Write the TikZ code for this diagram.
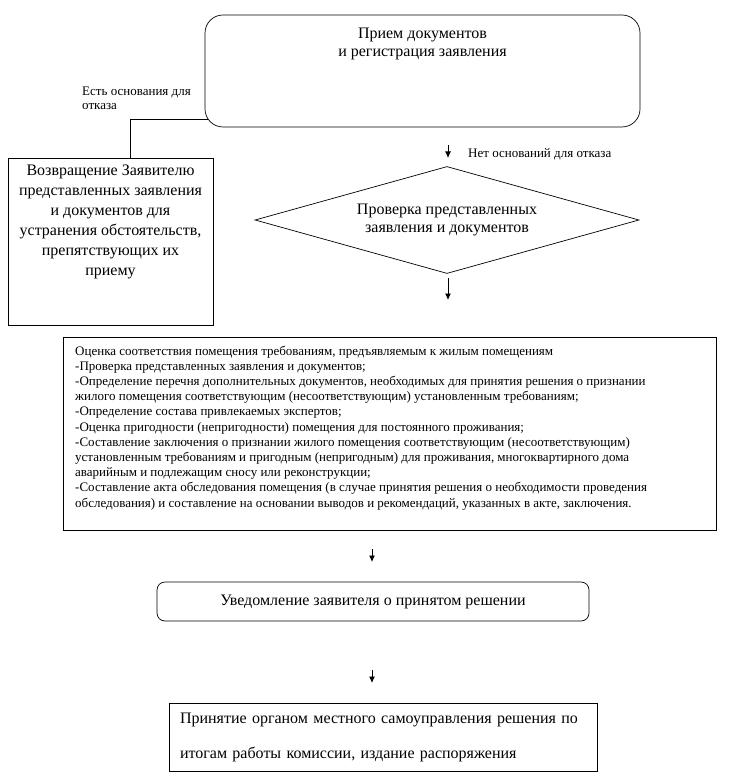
\documentclass[tikz,border=0pt]{standalone}
\usepackage{fontspec}
\setmainfont{Liberation Serif}
\usetikzlibrary{shapes.geometric,arrows.meta,positioning}

\begin{document}
\begin{tikzpicture}[x=1pt,y=-1pt,
  box/.style={draw,line width=0.7pt,inner sep=0pt},
  rbox/.style={box,rounded corners=#1},
  arr/.style={line width=0.8pt,-{Latex[length=6.5pt,width=6pt]}},
  small/.style={font=\fontsize{13}{14}\selectfont,inner sep=0pt},
  big/.style={font=\fontsize{16}{18}\selectfont,inner sep=0pt}]
\useasboundingbox (0,0) rectangle (735,783);
\node[rbox=18pt,minimum width=435pt,minimum height=112pt] (priem) at (422.5,71) {};
\node[big,align=center,anchor=north] (priemtxt) at (422.5,28) {Прием документов\\ и регистрация заявления};
\node[small,align=left,anchor=north west] (estlbl) at (82,87) {Есть основания для\\отказа};
\node[box,minimum width=205pt,minimum height=167pt] (vozvrat) at (110.5,241.5) {};
\node[big,font=\fontsize{16}{20}\selectfont,align=center,anchor=north] (vozvrattxt) at (110.5,165) {Возвращение Заявителю\\представленных заявления\\и документов для\\устранения обстоятельств,\\препятствующих их\\приему};
\coordinate (otkaz) at ([shift={(3pt,8pt)}]priem.south west);
\draw[line width=0.7pt] (otkaz) -| ([xshift=19.5pt]vozvrat.north);
\coordinate (a1s) at (448,145);
\coordinate (a1e) at (448,158);
\draw[arr] (a1s) -- (a1e);
\node[small,anchor=west] (netlbl) at (468,154) {Нет оснований для отказа};
\node[draw,line width=0.7pt,diamond,aspect=3.59,minimum width=384pt,minimum height=107pt,big,align=center] (proverka) at (447,220) {Проверка представленных\\заявления и документов};
\coordinate (a2s) at (448,278);
\coordinate (a2e) at (448,300);
\draw[arr] (a2s) -- (a2e);
\node[box,minimum width=653pt,minimum height=193pt] (ocenka) at (389.5,433.5) {};
\node[inner sep=0pt,font=\fontsize{13}{15.2}\selectfont,align=left,anchor=north west] (ocenkatxt) at (75,345.5) {Оценка соответствия помещения требованиям, предъявляемым к жилым помещениям\\
-Проверка представленных заявления и документов;\\
-Определение перечня дополнительных документов, необходимых для принятия решения о признании\\
жилого помещения соответствующим (несоответствующим) установленным требованиям;\\
-Определение состава привлекаемых экспертов;\\
-Оценка пригодности (непригодности) помещения для постоянного проживания;\\
-Составление заключения о признании жилого помещения соответствующим (несоответствующим)\\
установленным требованиям и пригодным (непригодным) для проживания, многоквартирного дома\\
аварийным и подлежащим сносу или реконструкции;\\
-Составление акта обследования помещения (в случае принятия решения о необходимости проведения\\
обследования) и составление на основании выводов и рекомендаций, указанных в акте, заключения.};
\coordinate (a3s) at (372,549);
\coordinate (a3e) at (372,562);
\draw[arr] (a3s) -- (a3e);
\node[rbox=8pt,minimum width=432pt,minimum height=39pt,big] (uved) at (373,601.5) {Уведомление заявителя о принятом решении};
\coordinate (a4s) at (372,670);
\coordinate (a4e) at (372,683);
\draw[arr] (a4s) -- (a4e);
\node[box,minimum width=428pt,minimum height=68pt,text width=406pt,inner xsep=11pt,align=left,font=\fontsize{16}{35}\selectfont] (prinyatie) at (383,737) {Принятие органом местного самоуправления решения по\\итогам работы комиссии, издание распоряжения};
\end{tikzpicture}
\end{document}
